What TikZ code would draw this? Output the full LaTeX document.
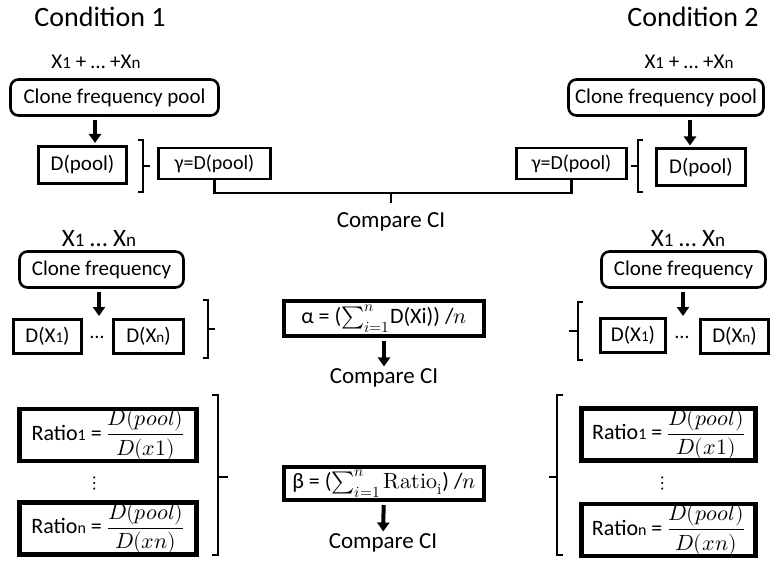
\documentclass[tikz,border=0pt]{standalone}
\usepackage{fontspec}
\usepackage{unicode-math}
\setmainfont{Carlito}
\setmathfont{Latin Modern Math}
\usetikzlibrary{arrows.meta}

\newcommand{\ix}[2]{{\fontsize{#1}{#1}\selectfont #2}}

\begin{document}
\begin{tikzpicture}[x = 1pt, y = -1pt,
	box/.style = {draw, line width = 3pt, inner sep = 0pt, minimum height = 36pt, font = \fontsize{21}{25}\selectfont},
	rbox/.style = {box, rounded corners = 8pt, line width = 2.6pt},
	bigbox/.style = {box, line width = 4.5pt, font = \fontsize{22}{26}\selectfont},
	lbl/.style = {inner sep = 0pt, font = \fontsize{20}{24}\selectfont},
	cmp/.style = {lbl, font = \fontsize{23}{27}\selectfont},
	arr/.style = {-{Triangle[length = 9pt, width = 12pt]}, line width = 4pt, shorten < = 3pt, shorten > = 2pt},
	brk/.style = {line width = 2.6pt}]

	\useasboundingbox (0,0) rectangle (784,564);

	% Headings

	\node [lbl, font = \fontsize{28}{32}\selectfont] (cond1) at (100,17) {Condition 1};
	\node [lbl, font = \fontsize{28}{32}\selectfont] (cond2) at (693,17) {Condition 2};

	% Pooled clones

	\node [lbl, font = \fontsize{21}{24}\selectfont] (sumL) at (96,62) {X\ix{17}{1} + … +X\ix{17}{n}};
	\node [lbl, font = \fontsize{21}{24}\selectfont] (sumR) at (689,62) {X\ix{17}{1} + … +X\ix{17}{n}};

	\node [rbox, minimum width = 208pt] (poolL) at (114.5,97.5) {Clone frequency pool};
	\node [rbox, minimum width = 195pt] (poolR) at (666,97.5) {Clone frequency pool};

	\node [box, minimum width = 88pt, minimum height = 37pt] (dpoolL) at (82.5,165) {D(pool)};
	\node [box, minimum width = 89pt, minimum height = 37pt] (dpoolR) at (701,167.5) {D(pool)};

	\node [box, line width = 2.6pt, font = \fontsize{20}{24}\selectfont, minimum width = 112pt, minimum height = 31pt] (gammaL) at (214.5,163.5) {γ=D(pool)};
	\node [box, line width = 2.6pt, font = \fontsize{20}{24}\selectfont, minimum width = 110pt, minimum height = 31pt] (gammaR) at (571.5,163.5) {γ=D(pool)};

	\coordinate (aL) at (95,0);
	\coordinate (aR) at (690,0);
	\draw [arr] (poolL.south -| aL) -- (dpoolL.north -| aL);
	\draw [arr] (poolR.south -| aR) -- (dpoolR.north -| aR);

	\draw [brk] (138,140) -- (143,140) -- (143,192) -- (138,192) (143,166) -- (150,166);
	\draw [brk] (643,140) -- (638,140) -- (638,192) -- (643,192) (638,166) -- (631,166);

	\node [cmp] (cmp1) at (391,222) {Compare CI};
	\coordinate (bar) at (0,193);
	\draw [brk] (gammaL.south) |- (bar -| cmp1.north) -| (gammaR.south);
	\draw [brk] (bar -| cmp1.north) -- ++(0,10);

	% Single clones

	\node [lbl, font = \fontsize{25}{29}\selectfont] (xsL) at (99,239) {X\ix{19}{1} … X\ix{19}{n}};
	\node [lbl, font = \fontsize{25}{29}\selectfont] (xsR) at (688,239) {X\ix{19}{1} … X\ix{19}{n}};

	\node [rbox, minimum width = 164pt] (cfL) at (101.5,269.5) {Clone frequency};
	\node [rbox, minimum width = 164pt] (cfR) at (683.5,269.5) {Clone frequency};

	\node [box, minimum width = 68pt, minimum height = 34pt] (dx1L) at (47.5,336.5) {D(X\ix{15}{1})};
	\node [lbl] (dotsL) at (97,337) {…};
	\node [box, minimum width = 70pt, minimum height = 34pt] (dxnL) at (148.5,336.5) {D(X\ix{15}{n})};

	\node [box, minimum width = 65pt, minimum height = 34pt] (dx1R) at (633,335.5) {D(X\ix{15}{1})};
	\node [lbl] (dotsR) at (682,337) {…};
	\node [box, minimum width = 68pt, minimum height = 34pt] (dxnR) at (734.5,336.5) {D(X\ix{15}{n})};

	\coordinate (bL) at (99,0);
	\coordinate (bR) at (683,0);
	\draw [arr] (cfL.south -| bL) -- (dxnL.north -| bL);
	\draw [arr] (cfR.south -| bR) -- (dxnR.north -| bR);

	\draw [brk] (203,300) -- (208,300) -- (208,358) -- (203,358) (208,329) -- (215,329);
	\draw [brk] (583,302) -- (578,302) -- (578,360) -- (583,360) (578,331) -- (569,331);

	% Mean of single clones

	\node [bigbox, line width = 4pt, minimum width = 200pt, minimum height = 35pt] (alpha) at (384,318.5)
		{α = ($\sum_{i=1}^{n}$D(Xi)) /$n$};
	\node [cmp] (cmp2) at (384,378) {Compare CI};
	\draw [arr] (alpha) -- (cmp2);

	% Ratios

	\node [bigbox, minimum width = 177pt, minimum height = 49pt] (r1L) at (108,435) {Ratio\ix{16}{1} = $\displaystyle\frac{D(pool)}{D(x1)}$};
	\node [lbl] (vdL) at (95,483) {$\vdots$};
	\node [bigbox, minimum width = 177pt, minimum height = 49pt] (rnL) at (108,528.5) {Ratio\ix{16}{n} = $\displaystyle\frac{D(pool)}{D(xn)}$};

	\node [bigbox, minimum width = 174pt, minimum height = 50pt] (r1R) at (668.5,434.5) {Ratio\ix{16}{1} = $\displaystyle\frac{D(pool)}{D(x1)}$};
	\node [lbl] (vdR) at (663,483) {$\vdots$};
	\node [bigbox, minimum width = 174pt, minimum height = 49pt] (rnR) at (668.5,530) {Ratio\ix{16}{n} = $\displaystyle\frac{D(pool)}{D(xn)}$};

	\draw [brk] (212,395) -- (218,395) -- (218,555) -- (212,555) (218,477) -- (228,477);
	\draw [brk] (563,395) -- (557,395) -- (557,555) -- (563,555) (557,477) -- (549,477);

	\node [bigbox, line width = 4pt, minimum width = 200pt, minimum height = 33pt] (beta) at (384,483.5)
		{β = ($\sum_{i=1}^{n}\symup{Ratio}_{\symup{i}}$) /$n$};
	\node [cmp] (cmp3) at (383,543) {Compare CI};
	\draw [arr] (beta) -- (cmp3);

\end{tikzpicture}
\end{document}
